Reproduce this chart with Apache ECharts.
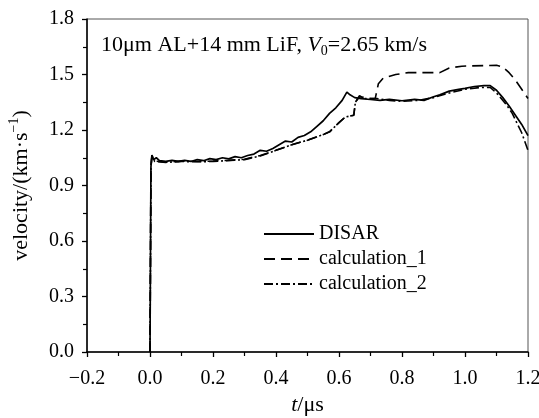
<!DOCTYPE html>
<html>
<head>
<meta charset="utf-8">
<script src="https://cdn.jsdelivr.net/npm/echarts@6/dist/echarts.min.js"></script>
<style>html,body{margin:0;padding:0;background:#fff;overflow:hidden}#c{width:539px;height:418px}</style>
</head>
<body>
<div id="c"></div>
<script>
const seriesNames = ['DISAR', 'calculation_1', 'calculation_2'];
const disar = [[0,0],[0.003,1.0],[0.006,1.065],[0.012,1.04],[0.02,1.05],[0.03,1.035],[0.05,1.03],[0.07,1.036],[0.09,1.03],[0.11,1.036],[0.13,1.03],[0.15,1.04],[0.17,1.034],[0.19,1.045],[0.21,1.04],[0.23,1.05],[0.25,1.044],[0.27,1.056],[0.29,1.05],[0.31,1.062],[0.33,1.07],[0.35,1.09],[0.37,1.085],[0.39,1.1],[0.41,1.12],[0.43,1.14],[0.45,1.135],[0.47,1.16],[0.49,1.17],[0.51,1.19],[0.53,1.22],[0.55,1.25],[0.57,1.29],[0.59,1.32],[0.61,1.36],[0.625,1.405],[0.635,1.39],[0.65,1.375],[0.67,1.37],[0.70,1.365],[0.73,1.36],[0.76,1.366],[0.80,1.358],[0.84,1.366],[0.87,1.36],[0.90,1.38],[0.92,1.39],[0.95,1.41],[0.98,1.42],[1.00,1.425],[1.03,1.435],[1.06,1.44],[1.08,1.44],[1.10,1.415],[1.12,1.375],[1.14,1.33],[1.16,1.28],[1.18,1.23],[1.2,1.17]];
const calc1 = [[0,0],[0.003,1.0],[0.006,1.06],[0.015,1.032],[0.05,1.026],[0.1,1.032],[0.15,1.03],[0.2,1.032],[0.25,1.036],[0.3,1.042],[0.35,1.062],[0.40,1.09],[0.45,1.12],[0.50,1.145],[0.55,1.175],[0.57,1.19],[0.60,1.24],[0.62,1.27],[0.647,1.28],[0.652,1.35],[0.665,1.38],[0.70,1.37],[0.715,1.37],[0.725,1.45],[0.74,1.48],[0.78,1.50],[0.82,1.51],[0.92,1.51],[0.95,1.535],[0.99,1.545],[1.10,1.55],[1.12,1.54],[1.14,1.51],[1.16,1.47],[1.18,1.42],[1.2,1.37]];
const calc2 = [[0,0],[0.003,1.0],[0.006,1.055],[0.015,1.03],[0.05,1.025],[0.1,1.03],[0.15,1.028],[0.2,1.03],[0.25,1.035],[0.3,1.04],[0.35,1.06],[0.40,1.09],[0.45,1.12],[0.50,1.145],[0.55,1.175],[0.57,1.19],[0.60,1.24],[0.62,1.27],[0.647,1.28],[0.652,1.35],[0.665,1.385],[0.68,1.37],[0.72,1.37],[0.76,1.36],[0.80,1.355],[0.85,1.36],[0.90,1.375],[0.95,1.40],[1.00,1.42],[1.05,1.43],[1.08,1.43],[1.10,1.40],[1.13,1.34],[1.15,1.29],[1.18,1.185],[1.2,1.09]];
const xTicks = {min: -0.2, max: 1.2, interval: 0.2};
const yTicks = {min: 0, max: 1.8, interval: 0.3};

const FONT = 'Liberation Serif';
const chart = echarts.init(document.getElementById('c'));
const minus = v => v.toFixed(1).replace('-', '\u2212');
chart.setOption({
  animation: false,
  backgroundColor: '#fff',
  textStyle: {fontFamily: FONT, color: '#000'},
  grid: {left: 87, right: 11, top: 19, bottom: 66, show: true, borderColor: '#555', borderWidth: 1,
         containLabel: false, outerBoundsMode: 'none'},
  title: {
    left: 96, top: 27,
    text: '{a|10}{a|μ}{a|m AL+14 mm LiF, }{i|V}{sub|0}{a|=2.65 km/s}',
    textStyle: {
      fontWeight: 'normal',
      rich: {
        a: {fontFamily: FONT, fontSize: 22, fontWeight: 'normal', color: '#000', lineHeight: 26},
        i: {fontFamily: FONT, fontSize: 22, fontWeight: 'normal', fontStyle: 'italic', color: '#000', lineHeight: 26},
        sub: {fontFamily: FONT, fontSize: 14, fontWeight: 'normal', color: '#000', lineHeight: 15, verticalAlign: 'bottom'}
      }
    }
  },
  legend: {
    orient: 'vertical', left: 258, top: 219, itemWidth: 50, itemHeight: 14, itemGap: 5,
    itemStyle: {opacity: 0},
    textStyle: {fontFamily: FONT, fontSize: 20, color: '#000'},
    data: seriesNames
  },
  xAxis: {
    type: 'value', min: xTicks.min, max: xTicks.max, interval: xTicks.interval,
    name: '{i|t}{a|/}{a|μs}', nameLocation: 'middle', nameGap: 42,
    nameTextStyle: {rich: {
      i: {fontFamily: FONT, fontSize: 22, fontStyle: 'italic', color: '#000'},
      a: {fontFamily: FONT, fontSize: 22, color: '#000'}
    }},
    axisLine: {onZero: false, lineStyle: {color: '#000', width: 1.5}},
    axisTick: {inside: false, length: 5, lineStyle: {color: '#000', width: 1.3}},
    minorTick: {show: true, splitNumber: 2, length: 4, lineStyle: {color: '#000', width: 1.2}},
    axisLabel: {fontFamily: FONT, fontSize: 20, color: '#000', margin: 17, formatter: minus},
    splitLine: {show: false}
  },
  yAxis: {
    type: 'value', min: yTicks.min, max: yTicks.max, interval: yTicks.interval,
    name: '{a|velocity/(km·s}{sup|−1}{a|)}', nameLocation: 'middle', nameGap: 52, nameRotate: 90,
    nameTextStyle: {rich: {
      a: {fontFamily: FONT, fontSize: 22, color: '#000', lineHeight: 28},
      sup: {fontFamily: FONT, fontSize: 14, color: '#000', lineHeight: 15, verticalAlign: 'top'}
    }},
    axisLine: {onZero: false, lineStyle: {color: '#000', width: 1.5}},
    axisTick: {inside: false, length: 5, lineStyle: {color: '#000', width: 1.3}},
    minorTick: {show: true, splitNumber: 2, length: 4, lineStyle: {color: '#000', width: 1.2}},
    axisLabel: {fontFamily: FONT, fontSize: 20, color: '#000', margin: 13, formatter: minus},
    splitLine: {show: false}
  },
  series: [
    {name: seriesNames[0], type: 'line', data: disar, symbol: 'none', z: 3,
     lineStyle: {color: '#000', width: 1.7, type: 'solid'}, itemStyle: {color: '#000'}},
    {name: seriesNames[1], type: 'line', data: calc1, symbol: 'none', z: 2,
     lineStyle: {color: '#000', width: 1.6, type: [11, 6]}, itemStyle: {color: '#000'}},
    {name: seriesNames[2], type: 'line', data: calc2, symbol: 'none', z: 2,
     lineStyle: {color: '#000', width: 1.6, type: [9, 3, 2, 3]}, itemStyle: {color: '#000'}}
  ]
});
</script>
</body>
</html>
